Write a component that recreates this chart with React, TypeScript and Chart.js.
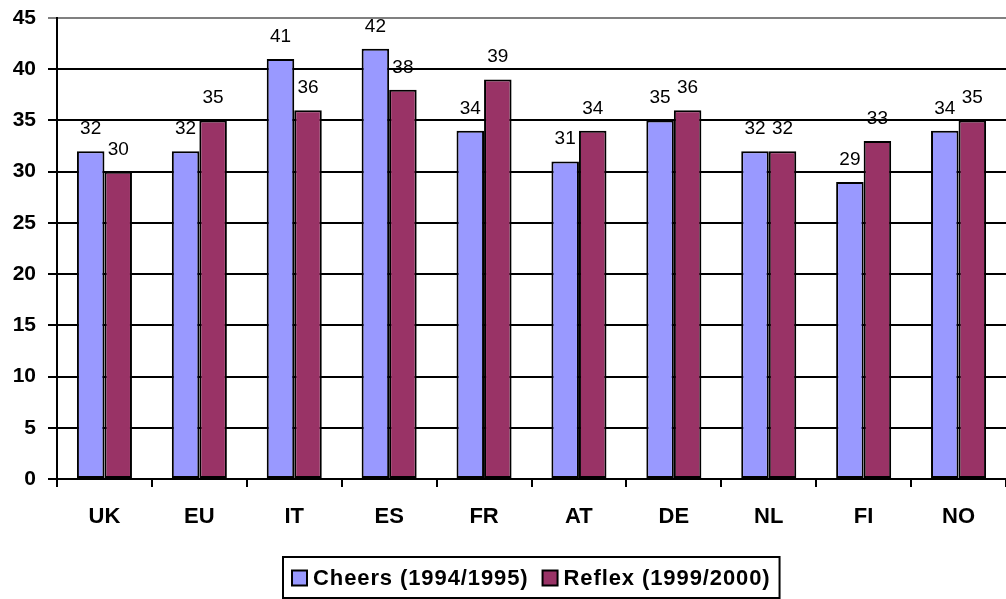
import React, { useEffect, useRef } from "react";
import { Chart, registerables } from "chart.js";

Chart.register(...registerables);

const categories = ["UK", "EU", "IT", "ES", "FR", "AT", "DE", "NL", "FI", "NO"];
const cheersValues = [32, 32, 41, 42, 34, 31, 35, 32, 29, 34];
const reflexValues = [30, 35, 36, 38, 39, 34, 36, 32, 33, 35];
const yTicks = [0, 5, 10, 15, 20, 25, 30, 35, 40, 45];
const seriesLabels = ["Cheers (1994/1995)", "Reflex (1999/2000)"];
const seriesColors = ["#9999FF", "#993366"];

const FONT = "Arial, 'Liberation Sans', sans-serif";

const valueLabelPlugin = {
  id: "valueLabels",
  afterDatasetsDraw(chart: any) {
    const ctx = chart.ctx;
    ctx.save();
    ctx.font = `normal 19px ${FONT}`;
    ctx.fillStyle = "#000";
    ctx.textAlign = "center";
    ctx.textBaseline = "alphabetic";
    chart.data.datasets.forEach((ds: any, di: number) => {
      const meta = chart.getDatasetMeta(di);
      meta.data.forEach((bar: any, i: number) => {
        ctx.fillText(String(ds.data[i]), bar.x, bar.y - 17);
      });
    });
    ctx.restore();
  },
};

const boxLegendPlugin = {
  id: "boxLegend",
  afterDraw(chart: any) {
    const ctx = chart.ctx;
    const area = chart.chartArea;
    ctx.save();
    ctx.font = `bold 22px ${FONT}`;
    try {
      (ctx as any).letterSpacing = "0.9px";
    } catch (e) {}
    const sq = 15;
    const gapSqText = 6;
    const gapItems = 14;
    const padX = 9;
    const widths = chart.data.datasets.map((ds: any) => ctx.measureText(ds.label).width);
    const inner =
      widths.reduce((a: number, w: number) => a + sq + gapSqText + w, 0) + gapItems * (widths.length - 1);
    const totalW = inner + padX * 2;
    const cx = (area.left + area.right) / 2;
    const left = Math.round(cx - totalW / 2);
    const top = 557;
    const bottom = 598;
    ctx.strokeStyle = "#000";
    ctx.lineWidth = 2;
    ctx.strokeRect(left, top, totalW, bottom - top);
    ctx.textBaseline = "middle";
    ctx.textAlign = "left";
    const cy = 578;
    let x = left + padX;
    chart.data.datasets.forEach((ds: any, i: number) => {
      ctx.fillStyle = ds.backgroundColor;
      ctx.fillRect(x, cy - sq / 2, sq, sq);
      ctx.lineWidth = 2;
      ctx.strokeStyle = "#000";
      ctx.strokeRect(x, cy - sq / 2, sq, sq);
      ctx.fillStyle = "#000";
      ctx.fillText(ds.label, x + sq + gapSqText, cy + 1);
      x += sq + gapSqText + widths[i] + gapItems;
    });
    ctx.restore();
  },
};

export default function App() {
  const ref = useRef<HTMLCanvasElement | null>(null);
  useEffect(() => {
    if (!ref.current) return;
    const chart = new Chart(ref.current, {
      type: "bar",
      data: {
        labels: categories,
        datasets: [
          {
            label: seriesLabels[0],
            data: cheersValues,
            backgroundColor: seriesColors[0],
            borderColor: "#000",
            borderWidth: 2,
            borderSkipped: false,
          },
          {
            label: seriesLabels[1],
            data: reflexValues,
            backgroundColor: seriesColors[1],
            borderColor: "#000",
            borderWidth: 2,
            borderSkipped: false,
          },
        ],
      },
      options: {
        animation: false,
        responsive: false,
        maintainAspectRatio: false,
        layout: { padding: { top: 18, bottom: 70, left: 0, right: 0 } },
        datasets: {
          bar: { categoryPercentage: 0.58, barPercentage: 1.0 },
        } as any,
        plugins: {
          legend: { display: false },
          tooltip: { enabled: false },
        },
        scales: {
          x: {
            offset: true,
            grid: {
              display: true,
              drawOnChartArea: false,
              drawTicks: true,
              tickLength: 8,
              color: "#000",
              lineWidth: 2,
              offset: true,
            },
            border: { display: true, color: "#000", width: 2 },
            ticks: {
              color: "#000",
              font: { family: FONT, size: 22, weight: "bold" },
              padding: 17,
            },
            afterFit(scale: any) {
              scale.height = 50;
              scale.paddingLeft = 0;
              scale.paddingRight = 0;
            },
          },
          y: {
            min: 0,
            max: 45,
            afterBuildTicks(scale: any) {
              scale.ticks = yTicks.map((v) => ({ value: v }));
            },
            grid: {
              color: (c: any) => (c.tick && c.tick.value === 45 ? "#808080" : "#000"),
              lineWidth: 2,
              drawTicks: true,
              tickLength: 9,
            },
            border: { display: true, color: "#000", width: 2 },
            ticks: {
              color: "#000",
              font: { family: FONT, size: 21, weight: "bold" },
              padding: 12,
            },
            afterFit(scale: any) {
              scale.width = 57;
              scale.paddingTop = 0;
              scale.paddingBottom = 0;
            },
          },
        },
      },
      plugins: [valueLabelPlugin, boxLegendPlugin],
    });
    return () => chart.destroy();
  }, []);
  return (
    <div style={{ position: "absolute", left: 0, top: 0, width: 1006, height: 599, background: "#fff" }}>
      <canvas ref={ref} width={1006} height={599} style={{ width: 1006, height: 599 }} />
    </div>
  );
}
